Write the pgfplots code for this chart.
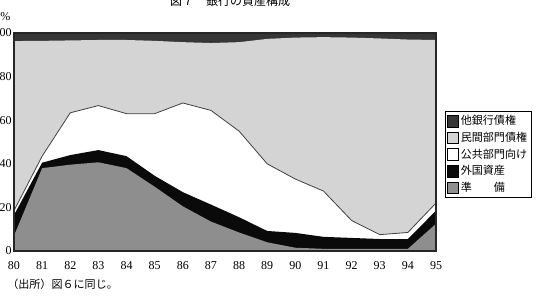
\documentclass[border=0pt]{standalone}
\usepackage{fontspec}
\setmainfont{Liberation Serif}
\newfontfamily\cjk{Noto Sans CJK JP}
\usepackage{pgfplots}
\pgfplotsset{compat=1.18}
\definecolor{cOther}{HTML}{363636}
\definecolor{cPriv}{HTML}{D4D4D4}
\definecolor{cFor}{HTML}{0A0A0A}
\definecolor{cRes}{HTML}{8E8E8E}
\begin{document}
\begin{tikzpicture}
\begin{axis}[
  at={(0pt,0pt)}, anchor=south west,
  scale only axis, width=316.5pt, height=163.5pt,
  xmin=80, xmax=95, ymin=0, ymax=100,
  xtick={80,81,...,95}, ytick={0,20,...,100},
  major tick length=0pt,
  tick label style={font=\fontsize{9}{10}\selectfont},
  /pgf/number format/assume math mode=true,
  xticklabel style={yshift=-4.5pt},
  yticklabel style={xshift=1.8pt},
  axis line style={line width=0.8pt, black!85},
  axis on top,
  legend style={at={(1.0213,0.443)}, anchor=west, draw=black, line width=0.5pt,
    font=\cjk\fontsize{8.3}{9.5}\selectfont, inner sep=1.2pt, row sep=0pt,
    cells={anchor=west}},
  legend image code/.code={\draw[#1, draw=black, line width=0.4pt] (0pt,-4.4pt) rectangle (8pt,4.4pt);},
]
\addlegendimage{fill=cOther}
\addlegendentry{他銀行債権}
\addlegendimage{fill=cPriv}
\addlegendentry{民間部門債権}
\addlegendimage{fill=white}
\addlegendentry{公共部門向け}
\addlegendimage{fill=cFor}
\addlegendentry{外国資産}
\addlegendimage{fill=cRes}
\addlegendentry{準　　備}
% cumulative tops, drawn from top layer down
\addplot[fill=cOther, draw=none, forget plot] coordinates {(80,100) (95,100)} \closedcycle;
\addplot[fill=cPriv, draw=none, forget plot] coordinates {
(80,96.3) (81,96.4) (82,96.6) (83,96.8) (84,96.8) (85,96.4) (86,95.8) (87,95.4)
(88,95.8) (89,97.3) (90,97.9) (91,98.1) (92,97.9) (93,97.5) (94,97) (95,96.8)} \closedcycle;
\addplot[fill=white, draw=black!75, line width=0.6pt, forget plot] coordinates {
(80,18.5) (81,43.5) (82,63.4) (83,66.7) (84,63) (85,63) (86,67.9) (87,64.5)
(88,55) (89,40) (90,33) (91,27.5) (92,14) (93,7.5) (94,8.5) (95,22)} \closedcycle;
\addplot[fill=cFor, draw=none, forget plot] coordinates {
(80,16.5) (81,40.5) (82,44) (83,46.3) (84,43.5) (85,34.5) (86,27) (87,21.3)
(88,15.5) (89,9.2) (90,8.3) (91,6.5) (92,6) (93,5.5) (94,5.5) (95,18.5)} \closedcycle;
\addplot[fill=cRes, draw=none, forget plot] coordinates {
(80,7) (81,38) (82,39.6) (83,40.7) (84,38) (85,29.5) (86,20.5) (87,13.5)
(88,8.5) (89,4) (90,1.5) (91,1) (92,1) (93,1) (94,1) (95,12.5)} \closedcycle;
\end{axis}
\node[font=\fontsize{9}{10}\selectfont, anchor=center] at (-6.5pt,175.5pt) {\%};
\node[font=\cjk\fontsize{9}{10}\selectfont, anchor=center] at (162pt,187.5pt) {図７　銀行の資産構成};
\node[font=\cjk\fontsize{8.3}{10}\selectfont, anchor=west, inner sep=0pt] at (-5.25pt,-24.75pt) {（出所）図６に同じ。};
\pgfresetboundingbox
\useasboundingbox (-10.5pt,-35.25pt) rectangle (396pt,188.25pt);
\end{tikzpicture}
\end{document}
